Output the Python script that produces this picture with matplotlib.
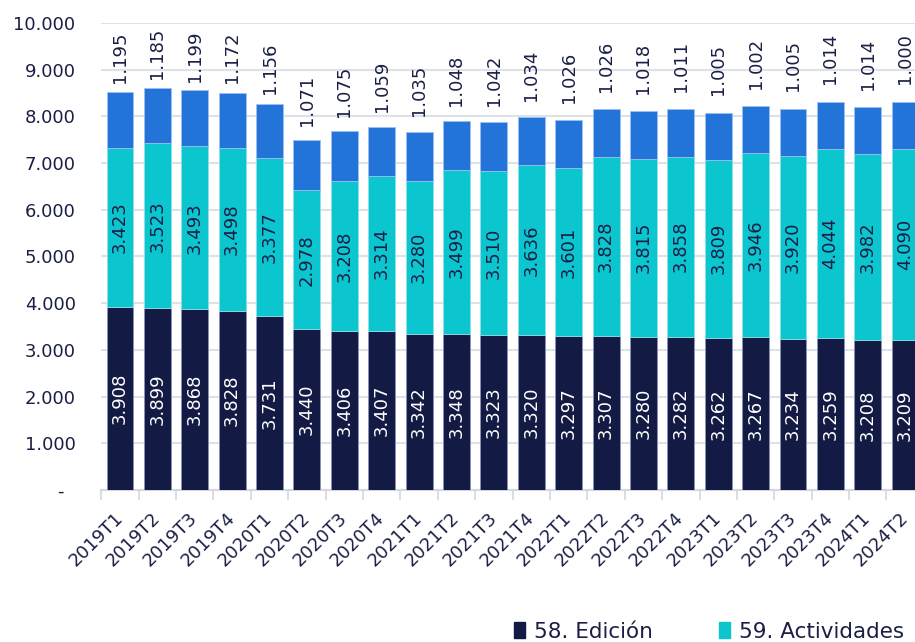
import numpy as np
import matplotlib.pyplot as plt
from matplotlib.patches import Patch

quarters = ['2019T1', '2019T2', '2019T3', '2019T4', '2020T1', '2020T2', '2020T3', '2020T4',
            '2021T1', '2021T2', '2021T3', '2021T4', '2022T1', '2022T2', '2022T3', '2022T4',
            '2023T1', '2023T2', '2023T3', '2023T4', '2024T1', '2024T2']
edicion = [3908, 3899, 3868, 3828, 3731, 3440, 3406, 3407, 3342, 3348, 3323,
           3320, 3297, 3307, 3280, 3282, 3262, 3267, 3234, 3259, 3208, 3209]
actividades = [3423, 3523, 3493, 3498, 3377, 2978, 3208, 3314, 3280, 3499, 3510,
               3636, 3601, 3828, 3815, 3858, 3809, 3946, 3920, 4044, 3982, 4090]
radio_tv = [1195, 1185, 1199, 1172, 1156, 1071, 1075, 1059, 1035, 1048, 1042,
            1034, 1026, 1026, 1018, 1011, 1005, 1002, 1005, 1014, 1014, 1000]
# only the first two legend entries are visible in the (cropped) original
legend_names = ['58. Edición', '59. Actividades']

NAVY = '#131a44'
CYAN = '#0bc5cf'
BLUE = '#2374d9'
TXT = '#1a1f45'

def fmt(v):
    return f"{v / 1000:.3f}"

fig = plt.figure(figsize=(9.15, 6.42), dpi=100)
ax = fig.add_axes([0.1107, 0.2368, 0.899, 0.7274])

x = np.arange(len(quarters))
ed = np.array(edicion)
ac = np.array(actividades)
rt = np.array(radio_tv)

w = 0.72
ax.bar(x, ed, w, color=NAVY, edgecolor='#8a94b8', linewidth=0.6, zorder=3)
ax.bar(x, ac, w, bottom=ed, color=CYAN, edgecolor='#8ee0e6', linewidth=0.6, zorder=3)
ax.bar(x, rt, w, bottom=ed + ac, color=BLUE, edgecolor='#9cc0ef', linewidth=0.6, zorder=3)

for i in x:
    ax.text(i, ed[i] / 2, fmt(ed[i]), rotation=90, ha='center', va='center',
            color='white', fontsize=13, zorder=4)
    ax.text(i, ed[i] + ac[i] / 2, fmt(ac[i]), rotation=90, ha='center', va='center',
            color=TXT, fontsize=13, zorder=4)
    # labels of the top series sit above the stack
    ax.text(i, ed[i] + ac[i] + 1930, fmt(rt[i]), rotation=90, ha='center', va='center',
            color=TXT, fontsize=13, zorder=4)

ax.set_ylim(0, 10000)
ax.set_xlim(-0.5, len(quarters) - 0.5)
yt = np.arange(0, 10001, 1000)
ax.set_yticks(yt)
ax.set_yticklabels(['-  '] + [fmt(v) for v in yt[1:]], fontsize=13, color=TXT)
ax.tick_params(axis='y', length=0, pad=18.5)
ax.yaxis.grid(True, color='#dde1e8', linewidth=1.5, zorder=0)

ax.set_xticks(x)
ax.set_xticklabels(quarters, rotation=45, ha='right', va='center', rotation_mode='anchor',
                   fontsize=13, color=TXT)
ax.set_xticks(np.arange(-0.5, len(quarters), 1), minor=True)
ax.tick_params(axis='x', which='major', length=0, pad=18)
ax.tick_params(axis='x', which='minor', length=7, width=1.2, color='#d3d7df')

for s in ['top', 'right', 'left']:
    ax.spines[s].set_visible(False)
ax.spines['bottom'].set_color('#d3d7df')
ax.spines['bottom'].set_linewidth(1.5)

handles = [Patch(color=c) for c in (NAVY, CYAN)]
fig.legend(handles, legend_names, loc='lower left', bbox_to_anchor=(0.541, -0.03),
           ncol=2, frameon=False, handlelength=0.5, handleheight=0.75,
           handletextpad=0.4, columnspacing=3.1,
           prop=dict(size=15.5), labelcolor=TXT)

fig.savefig('out.png', dpi=100)
